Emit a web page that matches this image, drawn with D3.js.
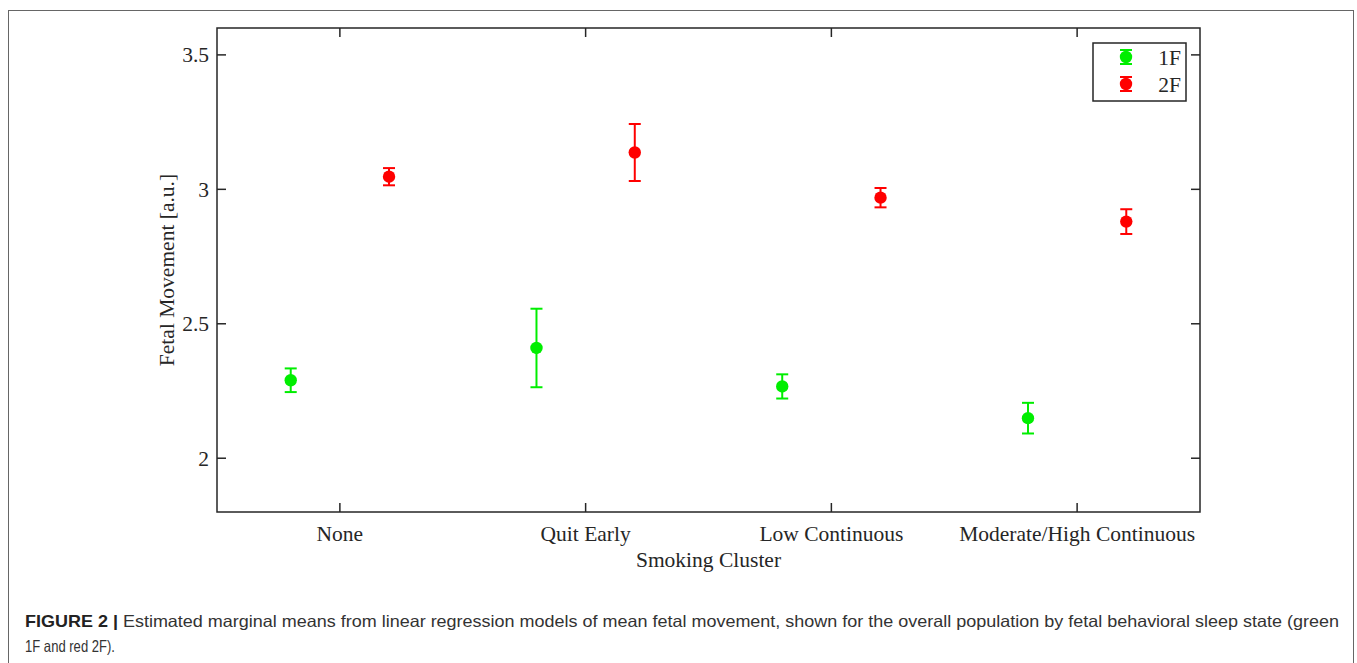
<!DOCTYPE html>
<html><head><meta charset="utf-8">
<script src="https://cdn.jsdelivr.net/npm/d3@7"></script>
<style>body{margin:0;background:#fff}svg{display:block}</style>
</head><body>
<svg id="c" width="1357" height="663"></svg>
<script>
const categories = ["None", "Quit Early", "Low Continuous", "Moderate/High Continuous"];
const series = ["1F", "2F"];
const colors = ["#00ee00", "#ff0000"];
const mean1F = [2.290, 2.410, 2.267, 2.149];
const err1F  = [0.044, 0.146, 0.045, 0.057];
const mean2F = [3.047, 3.137, 2.969, 2.880];
const err2F  = [0.032, 0.106, 0.036, 0.046];
const yTicks = [2, 2.5, 3, 3.5];
const yTickLabels = ["2", "2.5", "3", "3.5"];
const caption1Bold = "FIGURE 2 |";
const caption1 = " Estimated marginal means from linear regression models of mean fetal movement, shown for the overall population by fetal behavioral sleep state (green";
const caption2 = "1F and red 2F).";

const svg = d3.select("#c");
svg.append("rect").attr("x", 8.5).attr("y", 10.5).attr("width", 1345).attr("height", 700)
  .attr("fill", "none").attr("stroke", "#666").attr("stroke-width", 1);

const L = 217, R = 1200, T = 28, B = 512;
const x = d3.scaleLinear().domain([0.5, 4.5]).range([L, R]);
const y = d3.scaleLinear().domain([1.8, 3.6]).range([B, T]);
const serif = "'Liberation Serif', 'Times New Roman', serif";
const axisCol = "#262626";
const fs = 21.5;

const g = svg.append("g");
g.append("rect").attr("x", L).attr("y", T).attr("width", R - L).attr("height", B - T)
  .attr("fill", "none").attr("stroke", axisCol).attr("stroke-width", 1.5);

const tl = 9;
yTicks.forEach((v, i) => {
  const yy = y(v);
  g.append("line").attr("x1", L).attr("x2", L + tl).attr("y1", yy).attr("y2", yy).attr("stroke", axisCol).attr("stroke-width", 1.5);
  g.append("line").attr("x1", R).attr("x2", R - tl).attr("y1", yy).attr("y2", yy).attr("stroke", axisCol).attr("stroke-width", 1.5);
  g.append("text").attr("x", L - 8).attr("y", yy).attr("dy", "0.35em").attr("text-anchor", "end")
    .attr("font-family", serif).attr("font-size", fs).attr("fill", "#262626").text(yTickLabels[i]);
});
categories.forEach((c, i) => {
  const xx = x(i + 1);
  g.append("line").attr("x1", xx).attr("x2", xx).attr("y1", B).attr("y2", B - tl).attr("stroke", axisCol).attr("stroke-width", 1.5);
  g.append("line").attr("x1", xx).attr("x2", xx).attr("y1", T).attr("y2", T + tl).attr("stroke", axisCol).attr("stroke-width", 1.5);
  g.append("text").attr("x", xx).attr("y", 541).attr("text-anchor", "middle")
    .attr("font-family", serif).attr("font-size", fs).attr("fill", "#262626").text(c);
});
g.append("text").attr("x", (L + R) / 2).attr("y", 567).attr("text-anchor", "middle")
  .attr("font-family", serif).attr("font-size", fs).attr("fill", "#262626").text("Smoking Cluster");
g.append("text").attr("transform", `translate(174,${(T + B) / 2}) rotate(-90)`).attr("text-anchor", "middle")
  .attr("font-family", serif).attr("font-size", fs).attr("fill", "#262626").text("Fetal Movement [a.u.]");

const data = [[mean1F, err1F, -0.2], [mean2F, err2F, 0.2]];
const cap = 6, r = 6.2;
data.forEach(([m, e, off], si) => {
  const col = colors[si];
  m.forEach((v, i) => {
    const xx = x(i + 1 + off);
    const y1 = y(v + e[i]), y0 = y(v - e[i]);
    g.append("line").attr("x1", xx).attr("x2", xx).attr("y1", y1).attr("y2", y0).attr("stroke", col).attr("stroke-width", 2);
    g.append("line").attr("x1", xx - cap).attr("x2", xx + cap).attr("y1", y1).attr("y2", y1).attr("stroke", col).attr("stroke-width", 2);
    g.append("line").attr("x1", xx - cap).attr("x2", xx + cap).attr("y1", y0).attr("y2", y0).attr("stroke", col).attr("stroke-width", 2);
    g.append("circle").attr("cx", xx).attr("cy", y(v)).attr("r", r).attr("fill", col);
  });
});

g.append("rect").attr("x", 1093).attr("y", 43).attr("width", 93).attr("height", 58)
  .attr("fill", "#fff").attr("stroke", axisCol).attr("stroke-width", 1.5);
series.forEach((s, i) => {
  const ly = 57 + i * 27, lx = 1126, col = colors[i];
  g.append("line").attr("x1", lx).attr("x2", lx).attr("y1", ly - 7).attr("y2", ly + 7).attr("stroke", col).attr("stroke-width", 2);
  g.append("line").attr("x1", lx - 6).attr("x2", lx + 6).attr("y1", ly - 7).attr("y2", ly - 7).attr("stroke", col).attr("stroke-width", 2);
  g.append("line").attr("x1", lx - 6).attr("x2", lx + 6).attr("y1", ly + 7).attr("y2", ly + 7).attr("stroke", col).attr("stroke-width", 2);
  g.append("circle").attr("cx", lx).attr("cy", ly).attr("r", r).attr("fill", col);
  g.append("text").attr("x", 1181).attr("y", ly).attr("dy", "0.35em").attr("text-anchor", "end")
    .attr("font-family", serif).attr("font-size", fs).attr("fill", "#262626").text(s);
});

const sans = "'Liberation Sans', Arial, Helvetica, sans-serif";
const t1 = svg.append("text").attr("x", 25).attr("y", 627).attr("font-family", sans).attr("font-size", 16.5).attr("fill", "#333");
t1.append("tspan").attr("font-weight", "bold").attr("fill", "#222").text(caption1Bold);
t1.append("tspan").text(caption1);
t1.attr("textLength", 1339 - 25).attr("lengthAdjust", "spacingAndGlyphs");
svg.append("text").attr("x", 25).attr("y", 652).attr("font-family", sans).attr("font-size", 16.5).attr("fill", "#333").text(caption2)
  .attr("textLength", 90).attr("lengthAdjust", "spacingAndGlyphs");
</script>
</body></html>
